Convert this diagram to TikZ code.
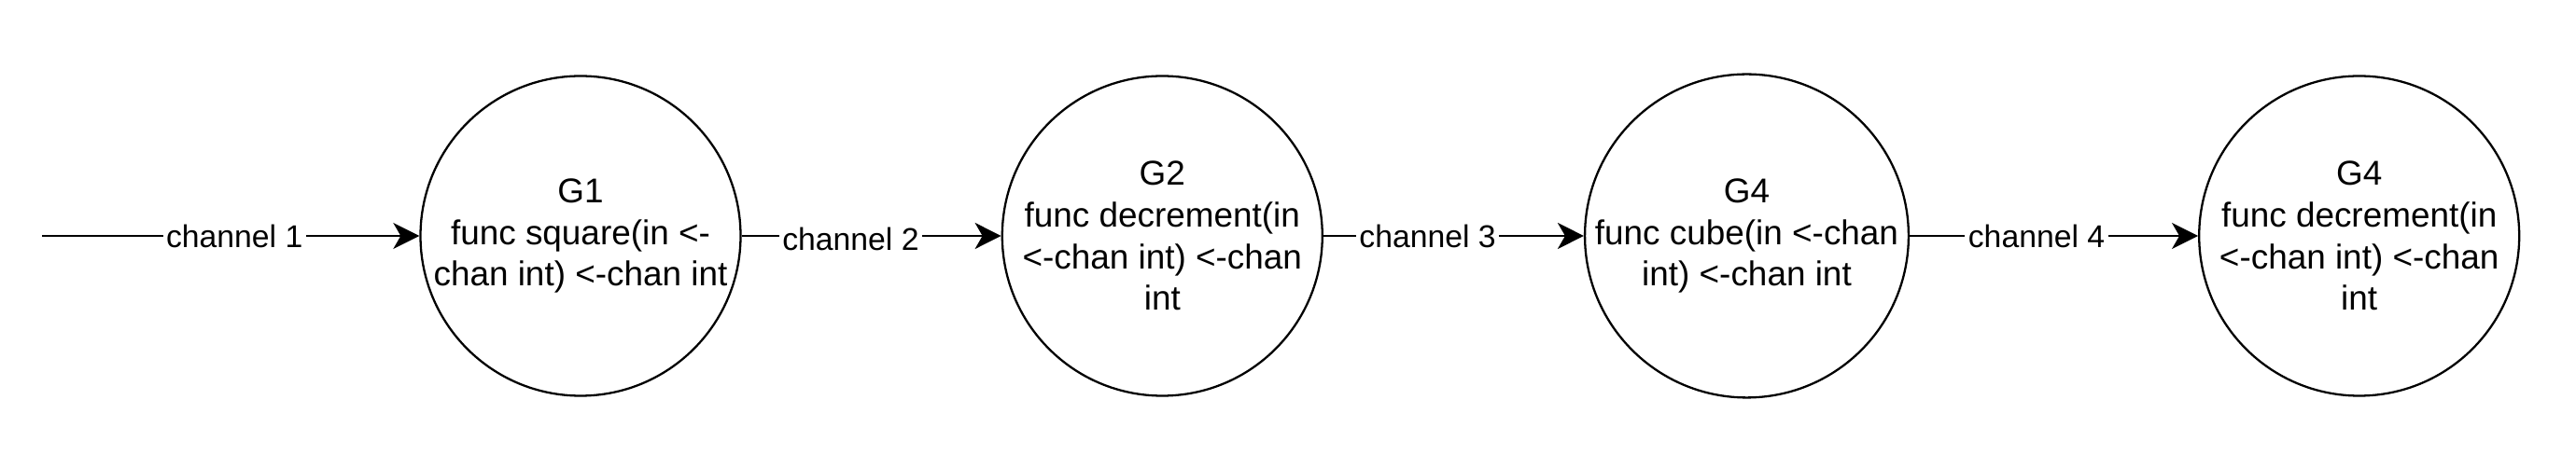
\documentclass[tikz,border=0pt]{standalone}
\usepackage{fontspec}
\setmainfont{Liberation Sans}
\usepackage{tikz}
\usetikzlibrary{arrows.meta,positioning}

\begin{document}
\begin{tikzpicture}[node distance=27.8mm,gor/.style={draw,circle,line width=0.65pt,minimum size=34.3mm,inner sep=0pt,align=center,font=\fontsize{10.5}{12.7}\selectfont},chan/.style={fill=white,inner sep=1pt,font=\fontsize{9.6}{12}\selectfont},flow/.style={line width=0.65pt,-{Stealth[length=2.8mm,width=2.8mm,inset=0.8mm]}}]
\useasboundingbox (0,0) rectangle (27.6,4.88);
\coordinate (src) at (0.45,2.35);
\node[gor] (g1) at (6.22,2.35) {G1\\func square(in <-\\chan int) <-chan int};
\node[gor,right=of g1] (g2) {G2\\func decrement(in\\<-chan int) <-chan\\int};
\node[gor,right=27.9mm of g2] (g3) {G4\\func cube(in <-chan\\int) <-chan int};
\node[gor,right=30.9mm of g3] (g4) {G4\\func decrement(in\\<-chan int) <-chan\\int};
\draw[flow] (src)--node[chan,pos=0.51]{channel 1}(g1);
\draw[flow] (g1)--node[chan,pos=0.42,yshift=-0.3mm]{channel 2}(g2);
\draw[flow] (g2)--node[chan,pos=0.4]{channel 3}(g3);
\draw[flow] (g3)--node[chan,pos=0.44]{channel 4}(g4);
\end{tikzpicture}
\end{document}
